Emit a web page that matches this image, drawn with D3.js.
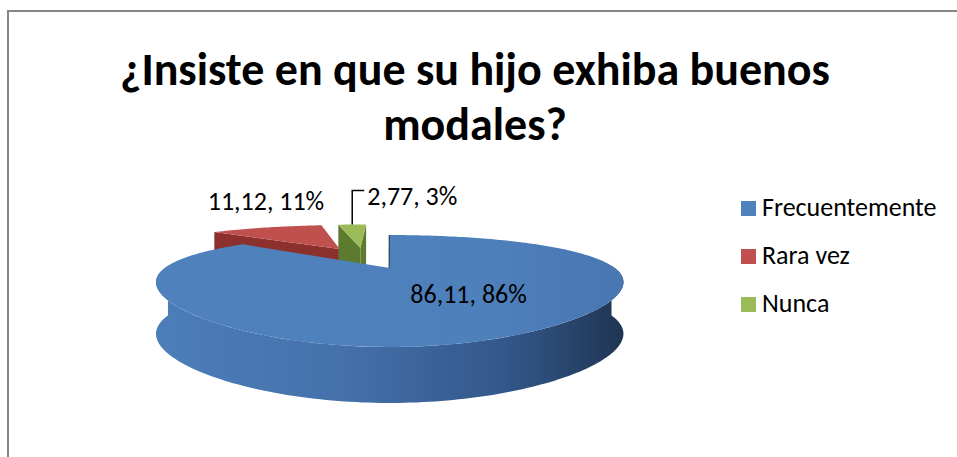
<!DOCTYPE html>
<html>
<head>
<meta charset="utf-8">
<script src="https://cdnjs.cloudflare.com/ajax/libs/d3/7.8.5/d3.min.js"></script>
<style>
  html, body { margin: 0; padding: 0; background: #fff; }
  svg { display: block; }
  text { font-family: Carlito, Calibri, Lato, sans-serif; fill: #000; }
</style>
</head>
<body>
<svg id="chart" width="957" height="457"></svg>
<script>
const categories = ['Frecuentemente', 'Rara vez', 'Nunca'];
const values = [86.11, 11.12, 2.77];
const titleLines = ['¿Insiste en que su hijo exhiba buenos', 'modales?'];

const colors = ['#4f81bd', '#c0504d', '#9bbb59'];
const wallColors = ['#2f5282', '#8b302d', '#5d7b2f'];

const W = 957, H = 457;
const svg = d3.select('#chart');

// chart area border (right / bottom edges fall outside the picture)
svg.append('rect')
  .attr('x', 8).attr('y', 11)
  .attr('width', W + 20).attr('height', H + 20)
  .attr('fill', '#fff')
  .attr('stroke', '#868686')
  .attr('stroke-width', 2);

// title
const title = svg.append('text')
  .attr('text-anchor', 'middle')
  .attr('font-size', 46)
  .attr('font-weight', 'bold');
titleLines.forEach((t, i) => {
  title.append('tspan').attr('x', 475).attr('y', 85 + i * 55).text(t);
});

// fake 3d projection: u to the right, v towards the viewer, z 0 = top, 1 = bottom
const PX = 0.27, PY = 0.41;
const xs = d3.scaleLinear().domain([-1, 1]).range([165, 615]);
const ys = d3.scaleLinear().domain([-1, 1]).range([268 - 46.5, 268 + 46.5]);
const depth = d3.scaleLinear().domain([-1, 1]).range([44, 56]);

function proj(u, v, z) {
  return [xs(u / (1 - PX * v)), ys(v / (1 - PY * v)) + z * depth(v)];
}

const origin = [-0.128, -0.271];
const explode = [0.30, 0.25, 0.25];

const pie = d3.pie().sort(null).value((d) => d);
const arcs = pie(values);

arcs.forEach((d, i) => {
  const mid = (d.startAngle + d.endAngle) / 2;
  d.cu = origin[0] + explode[i] * Math.sin(mid);
  d.cv = origin[1] - explode[i] * Math.cos(mid);
  d.mid = mid;
});

function rim(d, a, z, r = 1) {
  return proj(d.cu + r * Math.sin(a), d.cv - r * Math.cos(a), z);
}

function angleSteps(a0, a1) {
  const n = Math.max(2, Math.ceil((a1 - a0) / 0.02));
  return d3.range(n + 1).map((k) => a0 + ((a1 - a0) * k) / n);
}

const line = d3.line().curve(d3.curveLinearClosed);

function area2(pts) {
  let s = 0;
  for (let k = 0; k < pts.length; k++) {
    const p = pts[k], q = pts[(k + 1) % pts.length];
    s += p[0] * q[1] - q[0] * p[1];
  }
  return s;
}

// gradients
const defs = svg.append('defs');
const sideGrad = defs.append('linearGradient')
  .attr('id', 'side0')
  .attr('x1', '0').attr('x2', '1').attr('y1', '0').attr('y2', '0');
[[0, '#4c7eba'], [0.4, '#4471aa'], [0.75, '#33578a'], [1, '#1f3553']].forEach(([o, c]) => {
  sideGrad.append('stop').attr('offset', o).attr('stop-color', c);
});
const topGrad = defs.append('linearGradient')
  .attr('id', 'top0')
  .attr('x1', '0').attr('x2', '1').attr('y1', '0').attr('y2', '0');
[[0, '#4f81bd'], [0.7, '#4e80bc'], [1, '#4877b1']].forEach(([o, c]) => {
  topGrad.append('stop').attr('offset', o).attr('stop-color', c);
});

const pieLayer = svg.append('g');

// back slices first, the big front one last
const order = [1, 2, 0];
order.forEach((i) => {
  const d = arcs[i];
  const g = pieLayer.append('g');

  // outer curved wall, front half only
  const a0 = Math.max(d.startAngle, Math.PI / 2 - 0.05);
  const a1 = Math.min(d.endAngle, (3 * Math.PI) / 2 + 0.05);
  if (a1 > a0) {
    const steps = angleSteps(a0, a1);
    const pts = steps.map((a) => rim(d, a, 0))
      .concat(steps.slice().reverse().map((a) => rim(d, a, 1)));
    g.append('path')
      .attr('d', line(pts))
      .attr('fill', i === 0 ? 'url(#side0)' : wallColors[i]);
  }

  // radial walls
  [d.startAngle, d.endAngle].forEach((a, k) => {
    const pts = [proj(d.cu, d.cv, 0), rim(d, a, 0), rim(d, a, 1), proj(d.cu, d.cv, 1)];
    const s = area2(pts);
    if ((k === 0 && s < -1) || (k === 1 && s > 1)) {
      g.append('path').attr('d', line(pts)).attr('fill', wallColors[i]);
    }
  });

  // top face
  const top = [proj(d.cu, d.cv, 0)].concat(angleSteps(d.startAngle, d.endAngle).map((a) => rim(d, a, 0)));
  g.append('path').attr('d', line(top)).attr('fill', i === 0 ? 'url(#top0)' : colors[i]);

  // the edge-on start wall of the big slice shows as a dark hairline
  if (i === 0) {
    const c = proj(d.cu, d.cv, 0), r = rim(d, d.startAngle, 0);
    g.append('line')
      .attr('x1', c[0] - 0.5).attr('y1', c[1])
      .attr('x2', r[0] - 0.5).attr('y2', r[1])
      .attr('stroke', '#1f3553').attr('stroke-width', 1.2);
  }
});

// data labels
const total = d3.sum(values);
const fmt = d3.formatLocale({ decimal: ',', thousands: '.', grouping: [3], currency: ['', ''] }).format('.2f');
const labelText = (v) => `${fmt(v)}, ${Math.round((v / total) * 100)}%`;

const labels = svg.append('g').attr('font-size', 26);

// Frecuentemente: inside the slice
{
  const d = arcs[0];
  const p = rim(d, d.mid, 0, 0.6);
  labels.append('text')
    .attr('x', p[0] + 12).attr('y', p[1] + 2)
    .attr('text-anchor', 'middle')
    .text(labelText(values[0]));
}
// Rara vez: above its slice
{
  const d = arcs[1];
  const p = rim(d, d.mid, 0, 1);
  labels.append('text')
    .attr('x', p[0]).attr('y', p[1] - 18)
    .attr('text-anchor', 'middle')
    .text(labelText(values[1]));
}
// Nunca: with a leader line
{
  const d = arcs[2];
  const p = rim(d, d.mid, 0, 1);
  const elbow = p[1] - 34;
  labels.append('path')
    .attr('d', `M${p[0]},${p[1]}V${elbow}H${p[0] + 12}`)
    .attr('fill', 'none')
    .attr('stroke', '#000')
    .attr('stroke-width', 1.5);
  labels.append('text')
    .attr('x', p[0] + 15).attr('y', elbow + 14)
    .text(labelText(values[2]));
}

// legend
const legend = svg.append('g').attr('font-size', 26);
const ly = d3.scalePoint().domain(categories).range([201, 297]);
categories.forEach((c, i) => {
  legend.append('rect')
    .attr('x', 741).attr('y', ly(c))
    .attr('width', 15).attr('height', 15)
    .attr('fill', colors[i]);
  legend.append('text')
    .attr('x', 762).attr('y', ly(c) + 15)
    .text(c);
});
</script>
</body>
</html>
